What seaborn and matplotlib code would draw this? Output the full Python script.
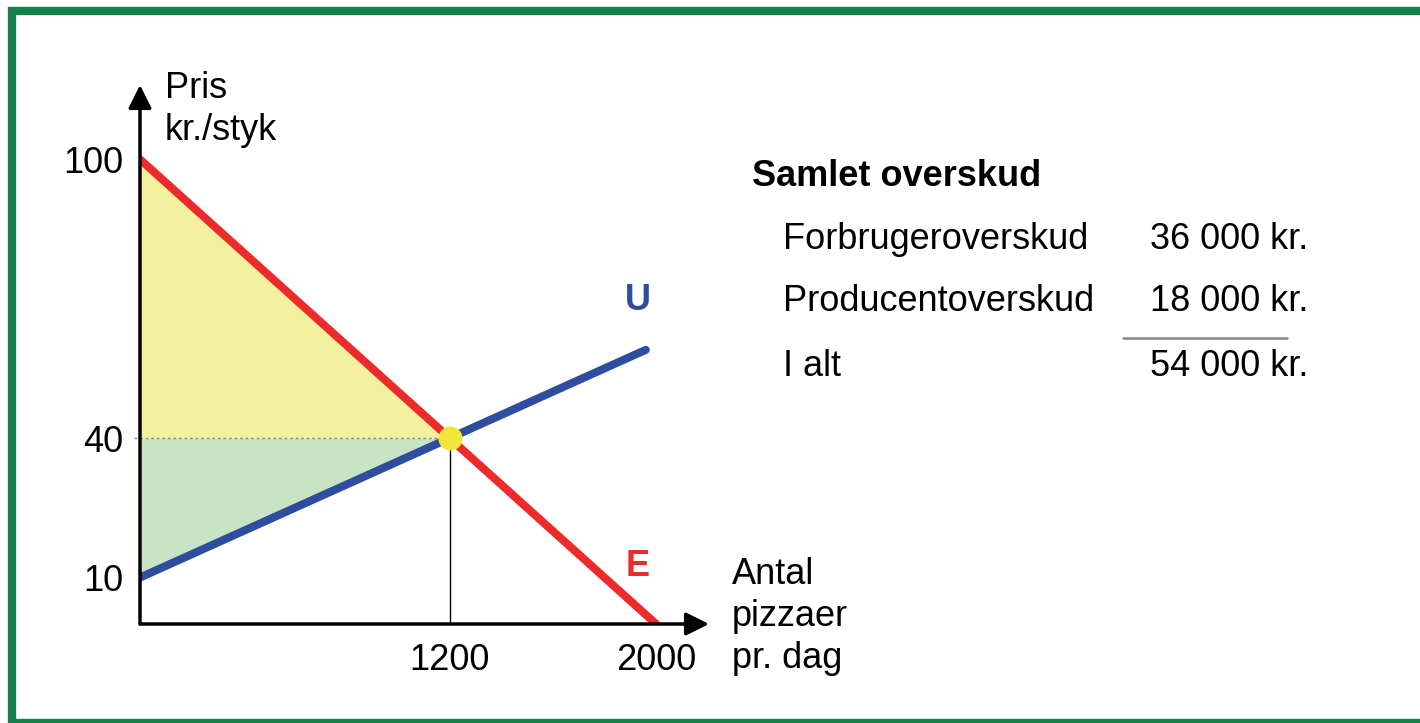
import numpy as np
import pandas as pd
import seaborn as sns
import matplotlib.pyplot as plt
from matplotlib.patches import Rectangle
from matplotlib.lines import Line2D

# market data
demand_q = [0, 2000]
demand_p = [100, 0]
supply_q = [0, 1960]
supply_p = [10, 59]
eq_quantity = 1200
eq_price = 40
y_ticks = [10, 40, 100]
x_ticks = [1200, 2000]
surplus_labels = ["Forbrugeroverskud", "Producentoverskud", "I alt"]
surplus_values = ["36 000 kr.", "18 000 kr.", "54 000 kr."]

RED = "#ee2b2b"
BLUE = "#2f4d9e"
W, H = 1420, 723
FS = 26


def px(x, y):
    """pixel position -> figure fraction"""
    return x / W, 1 - y / H


sns.set_theme(style="white")
plt.rcParams["font.family"] = ["Liberation Sans", "DejaVu Sans"]
plt.rcParams["text.color"] = "black"

fig = plt.figure(figsize=(W / 100, H / 100), dpi=100)
ax = fig.add_axes([140 / W, 99 / H, 569 / W, 539 / H])

df = pd.DataFrame({
    "q": demand_q + supply_q,
    "p": demand_p + supply_p,
    "curve": ["E"] * len(demand_q) + ["U"] * len(supply_q),
})
sns.lineplot(data=df, x="q", y="p", hue="curve", palette={"E": RED, "U": BLUE},
             linewidth=5.8, legend=False, ax=ax, zorder=3)

# surplus areas
qs = np.linspace(0, eq_quantity, 100)
d = np.interp(qs, demand_q, demand_p)
s = np.interp(qs, supply_q, supply_p)
ax.fill_between(qs, eq_price, d, color="#f3f09e", lw=0, zorder=1)
ax.fill_between(qs, s, eq_price, color="#c9e4c5", lw=0, zorder=1)

# guide lines and equilibrium point
ax.plot([-25, eq_quantity], [eq_price, eq_price], color="#8a8a8a", lw=1,
        ls=(0, (2, 2)), clip_on=False, zorder=2)
ax.plot([eq_quantity, eq_quantity], [0, eq_price], color="black", lw=1, zorder=2)
ax.scatter([eq_quantity], [eq_price], s=300, color="#f2e63c", lw=0, zorder=5)

ax.set_xlim(0, 2205)
ax.set_ylim(0, 116)
ax.set_xticks(x_ticks)
ax.set_xticklabels([str(v) for v in x_ticks])
ax.set_yticks(y_ticks)
ax.set_yticklabels([str(v) for v in y_ticks])
ax.tick_params(axis="both", length=0, labelsize=FS, colors="black")
ax.tick_params(axis="x", pad=14)
ax.tick_params(axis="y", pad=12)
ax.set_xlabel("")
ax.set_ylabel("")
for sp in ax.spines.values():
    sp.set_visible(False)
ax.patch.set_alpha(0)

arrow = dict(arrowstyle="-|>,head_length=0.7,head_width=0.35", lw=2.5,
             color="black", shrinkA=0, shrinkB=0, mutation_scale=20)
ax.annotate("", xy=(1, 0), xytext=(0, 0), xycoords="axes fraction", arrowprops=arrow)
ax.annotate("", xy=(0, 1), xytext=(0, 0), xycoords="axes fraction", arrowprops=arrow)

# axis titles
fig.text(*px(165, 88), "Pris", fontsize=FS, va="center")
fig.text(*px(165, 130), "kr./styk", fontsize=FS, va="center")
for yy, t in zip([575, 616, 658], ["Antal", "pizzaer", "pr. dag"]):
    fig.text(*px(732, yy), t, fontsize=FS, va="center")

fig.text(*px(638, 300), "U", fontsize=FS, fontweight="bold", color=BLUE,
         ha="center", va="center")
fig.text(*px(638, 567), "E", fontsize=FS, fontweight="bold", color=RED,
         ha="center", va="center")

# surplus summary
fig.text(*px(752, 176), "Samlet overskud", fontsize=FS, fontweight="bold", va="center")
for yy, lab, val in zip([240, 301, 366], surplus_labels, surplus_values):
    fig.text(*px(783, yy), lab, fontsize=FS, va="center")
    fig.text(*px(1308, yy), val, fontsize=FS, va="center", ha="right")
x0, y0 = px(1123, 338)
x1, _ = px(1287, 338)
fig.add_artist(Line2D([x0, x1], [y0, y0], color="#888888", lw=1.8))

# green frame
fig.patches.append(Rectangle(px(12, 723), 1.2, (723 - 10.5) / H, transform=fig.transFigure,
                             fill=False, edgecolor="#15804a", lw=6, zorder=10))

fig.savefig("out.png", dpi=100)
